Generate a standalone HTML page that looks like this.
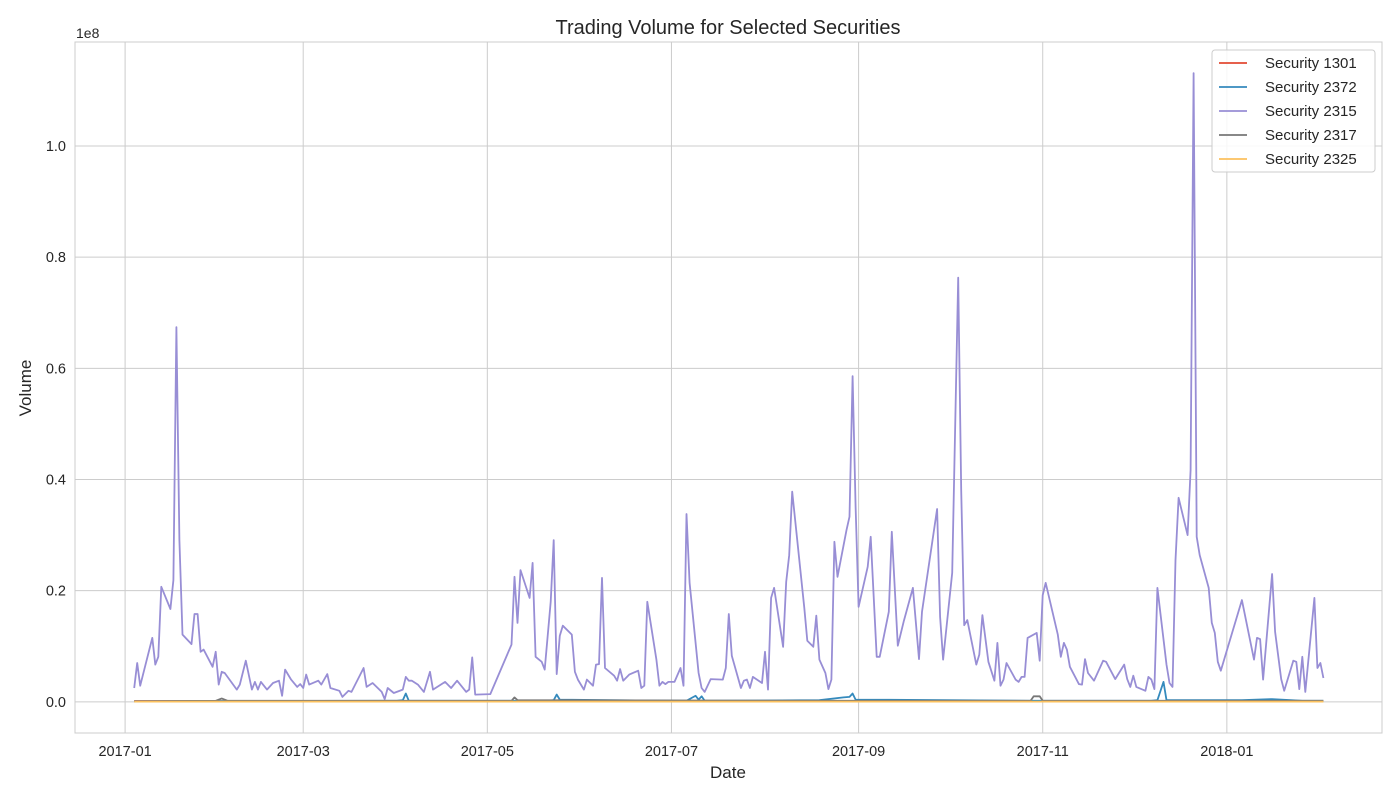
<!DOCTYPE html>
<html><head><meta charset="utf-8"><style>
body{margin:0;background:#fff;}
svg{display:block;font-family:"Liberation Sans","DejaVu Sans",sans-serif;}
</style></head><body>
<svg id="chart" width="1400" height="800"></svg>
<script>
// Dates as day offsets from 2017-01-01; volumes in millions
const tickDays = [0, 59, 120, 181, 243, 304, 365];
const tickLabels = ["2017-01","2017-03","2017-05","2017-07","2017-09","2017-11","2018-01"];
const yTicks = [0, 20, 40, 60, 80, 100];
const yTickLabels = ["0.0","0.2","0.4","0.6","0.8","1.0"];
const seriesNames = ["Security 1301","Security 2372","Security 2315","Security 2317","Security 2325"];
const seriesColors = ["#e24a33","#348abd","#988ed5","#777777","#fbc15e"];

const days2315 = [3,4,5,9,10,11,12,15,16,17,18,19,22,23,24,25,26,29,30,31,32,33,37,38,40,42,43,44,45,47,49,51,52,53,55,57,58,59,60,61,64,65,67,68,71,72,74,75,79,80,82,85,86,87,89,92,93,94,95,97,99,101,102,106,108,110,113,114,115,116,121,128,129,130,131,134,135,136,138,139,141,142,143,144,145,148,149,150,152,153,155,156,157,158,159,162,163,164,165,167,170,171,172,173,176,177,178,179,180,182,184,185,186,187,190,191,192,194,198,199,200,201,204,205,206,207,208,211,212,213,214,215,218,219,220,221,225,226,228,229,230,232,233,234,235,236,239,240,241,242,243,246,247,249,250,253,254,256,258,261,263,264,269,270,271,274,276,277,278,279,282,283,284,286,288,289,290,291,292,295,296,297,298,299,302,303,304,305,309,310,311,312,313,316,317,318,319,321,324,325,328,331,332,333,334,335,338,339,340,341,342,345,346,347,348,349,352,353,354,355,356,359,360,361,362,363,370,374,375,376,377,380,381,383,384,387,388,389,390,391,394,395,396,397];
const vol2315 = [2.5,7.0,2.9,11.5,6.7,8.1,20.7,16.7,21.9,67.4,29.1,12.1,10.4,15.8,15.8,9.0,9.4,6.3,9.0,3.1,5.4,5.2,2.2,3.1,7.4,2.2,3.6,2.2,3.6,2.2,3.4,3.8,1.1,5.8,4.0,2.7,3.2,2.5,4.9,3.1,3.8,3.1,5.0,2.5,2.0,0.9,2.0,1.8,6.1,2.7,3.4,1.8,0.5,2.5,1.6,2.2,4.5,3.8,3.8,3.1,1.8,5.4,2.2,3.6,2.5,3.8,1.8,2.2,8.0,1.3,1.4,10.3,22.5,14.2,23.7,18.7,25.0,8.1,7.2,5.8,18.0,29.1,5.0,11.9,13.7,12.1,5.4,4.0,2.2,4.0,2.9,6.7,6.8,22.3,6.1,4.7,3.8,5.9,3.8,4.9,5.6,2.5,2.9,18.0,7.6,2.9,3.6,3.2,3.6,3.6,6.1,2.9,33.8,21.4,5.2,2.5,1.8,4.1,4.0,6.1,15.8,8.3,2.5,3.8,4.0,2.5,4.5,3.4,9.0,2.2,18.7,20.5,9.9,21.6,26.4,37.8,16.9,11.0,9.9,15.5,7.6,5.2,2.3,4.0,28.8,22.5,30.9,33.3,58.6,35.1,17.1,24.3,29.7,8.1,8.1,16.2,30.6,10.1,14.6,20.5,7.7,16.2,34.7,15.3,7.6,23.2,76.3,38.1,13.8,14.7,6.7,8.5,15.6,7.2,3.8,10.6,2.9,4.0,7.0,4.0,3.6,4.5,4.5,11.5,12.4,7.4,19.2,21.4,12.1,8.1,10.6,9.4,6.3,3.2,3.1,7.7,5.2,3.8,7.4,7.2,4.1,6.7,4.1,2.7,4.7,2.7,2.0,4.5,4.0,2.3,20.5,6.7,3.4,2.7,25.5,36.7,30.0,41.7,113.1,29.7,26.4,20.5,14.2,12.4,7.2,5.6,18.3,7.6,11.5,11.3,4.0,23.0,12.6,4.1,2.0,7.4,7.2,2.3,8.1,1.8,18.7,6.1,7.0,4.3];

const days2372 = [3,90,92,93,94,140,142,143,144,160,186,188,189,190,191,192,230,238,240,241,242,300,340,342,344,345,346,370,380,390,397];
const vol2372 = [0.1,0.2,0.3,1.5,0.2,0.2,0.3,1.3,0.4,0.3,0.2,0.8,1.1,0.4,1.0,0.2,0.3,0.8,0.9,1.5,0.4,0.2,0.2,0.3,3.6,0.3,0.3,0.3,0.5,0.2,0.2];
const days2317 = [3,30,32,34,128,129,130,250,236,237,300,301,302,303,304,397];
const vol2317 = [0.1,0.2,0.6,0.2,0.2,0.8,0.3,0.2,0.2,0.2,0.2,1.0,1.0,1.0,0.2,0.2];
const days1301 = [3,100,200,300,397];
const vol1301 = [0.15,0.12,0.14,0.13,0.12];
const days2325 = [3,100,200,300,397];
const vol2325 = [0.05,0.05,0.05,0.05,0.05];

const L=75,R=1382,T=42,B=733;
const dMin=-16.6,dMax=416.4,vMin=-5.6,vMax=118.7;
const X=d=>L+(d-dMin)/(dMax-dMin)*(R-L);
const Y=v=>B-(v-vMin)/(vMax-vMin)*(B-T);
const svg=document.getElementById('chart');
const NS='http://www.w3.org/2000/svg';
function mk(tag,attrs,parent){const e=document.createElementNS(NS,tag);for(const k in attrs)e.setAttribute(k,attrs[k]);(parent||svg).appendChild(e);return e;}

tickDays.forEach((d,i)=>{
  const g=mk('line',{x1:X(d),x2:X(d),y1:T,y2:B,stroke:'#cccccc','stroke-width':1});
  
  
  const t=mk('text',{x:X(d),y:B+23,'text-anchor':'middle','font-size':14.5,fill:'#262626'});
  t.textContent=tickLabels[i];
  
  
});
yTicks.forEach((v,i)=>{
  const g=mk('line',{x1:L,x2:R,y1:Y(v),y2:Y(v),stroke:'#cccccc','stroke-width':1});
  
  
  const t=mk('text',{x:L-9,y:Y(v)+5,'text-anchor':'end','font-size':14.5,fill:'#262626'});
  t.textContent=yTickLabels[i];
  
  
});
const frame=mk('rect',{x:L,y:T,width:R-L,height:B-T,fill:'none',stroke:'#cccccc','stroke-width':1});



function line(days,vals,color,name){
  const p=days.map((d,i)=>[d,vals[i]]).sort((a,b)=>a[0]-b[0]).map((q,i)=>(i?'L':'M')+X(q[0]).toFixed(1)+','+Y(q[1]).toFixed(1)).join('');
  const e=mk('path',{d:p,fill:'none',stroke:color,'stroke-width':1.8,'stroke-linejoin':'round'});
  
  
}
line(days1301,vol1301,seriesColors[0],'series-1301-line');
line(days2372,vol2372,seriesColors[1],'series-2372-line');
line(days2315,vol2315,seriesColors[2],'series-2315-line');
line(days2317,vol2317,seriesColors[3],'series-2317-line');
line(days2325,vol2325,seriesColors[4],'series-2325-line');

const ti=mk('text',{x:728,y:34,'text-anchor':'middle','font-size':20,fill:'#262626'});ti.textContent='Trading Volume for Selected Securities';


const xt=mk('text',{x:728,y:778,'text-anchor':'middle','font-size':17,fill:'#262626'});xt.textContent='Date';


const yt=mk('text',{x:31,y:388,'text-anchor':'middle','font-size':17,fill:'#262626',transform:'rotate(-90 31 388)'});yt.textContent='Volume';


const off=mk('text',{x:76,y:38,'font-size':14,fill:'#262626'});off.textContent='1e8';



const lg=mk('g',{});


mk('rect',{x:1212,y:50,width:163,height:122,rx:3,fill:'#ffffff','fill-opacity':0.85,stroke:'#cccccc'},lg);
seriesNames.forEach((n,i)=>{
  const y=63+i*24;
  const ent=mk('g',{},lg);
  
  
  mk('line',{x1:1219,x2:1247,y1:y,y2:y,stroke:seriesColors[i],'stroke-width':1.8},ent);
  const t=mk('text',{x:1265,y:y+5,'font-size':15,fill:'#262626'},ent);t.textContent=n;
});
</script>
</body></html>
